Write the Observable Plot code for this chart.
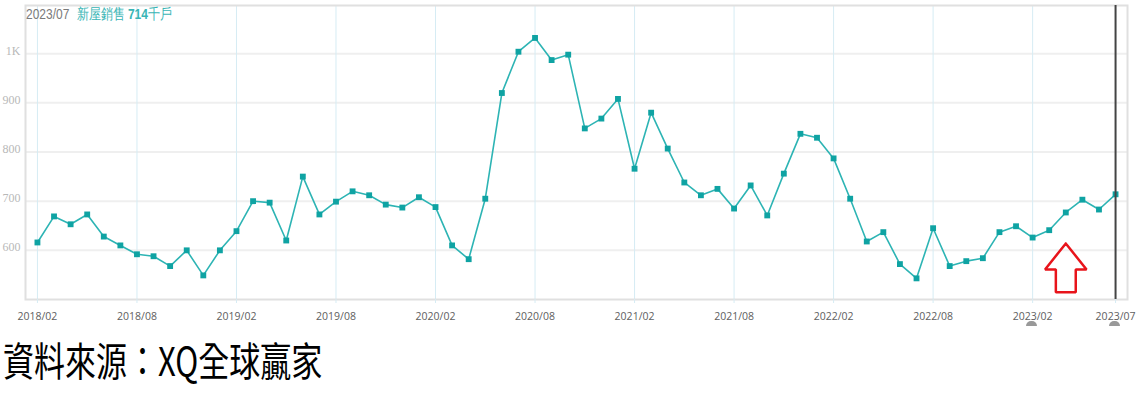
<!DOCTYPE html>
<html><head><meta charset="utf-8">
<script src="https://cdn.jsdelivr.net/npm/d3@7"></script>
<script src="https://cdn.jsdelivr.net/npm/@observablehq/plot@0.6"></script>
<style>
body{margin:0;background:#fff;width:1136px;height:397px;overflow:hidden;position:relative;font-family:"Liberation Sans",sans-serif}
#chart{position:absolute;left:0;top:0}
#hdr{position:absolute;left:26px;top:5px;font-size:15px;white-space:nowrap;transform:scaleX(0.8);transform-origin:left top;font-family:"Liberation Sans",sans-serif}
#hdr .d{color:#7a7a7a;margin-right:9px}
#hdr .s{color:#38b5b5}
#cap{position:absolute;left:3px;top:335px;font-family:"Noto Sans CJK TC",sans-serif;font-size:40px;line-height:48px;transform:scaleX(0.775);transform-origin:left top;color:#000;white-space:nowrap}
.knob{position:absolute;top:321px;width:11px;height:5px;background:#999;border-radius:6px 6px 0 0}
</style></head><body>
<div id="chart"></div>
<div id="hdr"><span class="d"></span><span class="s"></span></div>
<div id="cap"></div>
<script>
// ---- data ----
const startYear = 2018, startMonth = 2;
const sales = [
  616, 669, 653, 673, 628, 610, 592, 588, 568, 600, 549, 600,
  639, 700, 697, 620, 750, 673, 699, 720, 712, 693, 687, 708,
  688, 610, 582, 705, 920, 1004, 1032, 987, 998, 848, 868, 908,
  766, 880, 807, 738, 712, 725, 685, 732, 671, 756, 837, 829,
  787, 705, 618, 637, 572, 543, 645, 568, 578, 584, 637, 649,
  626, 641, 677, 703, 683, 714
];
const yTicks = [600, 700, 800, 900, 1000];
const yTickLabels = ["600", "700", "800", "900", "1K"];
const xTickLabels = ["2018/02","2018/08","2019/02","2019/08","2020/02","2020/08",
                     "2021/02","2021/08","2022/02","2022/08","2023/02","2023/07"];
const seriesName = "新屋銷售";
const unit = "千戶";
const caption = "資料來源：XQ全球贏家";
const arrowMonth = "2023/04";
// arrow outline: [month offset, value]
const arrowShape = [[0,614],[1.25,561],[0.6,561],[0.6,515],[-0.6,515],[-0.6,561],[-1.25,561],[0,614]];

// ---- derived ----
const months = sales.map((_, i) => {
  const m = startMonth - 1 + i;
  const y = startYear + Math.floor(m / 12);
  const mm = (m % 12) + 1;
  return `${y}/${String(mm).padStart(2, "0")}`;
});
const data = sales.map((v, i) => ({i, month: months[i], v}));
const xTickIdx = xTickLabels.map(l => months.indexOf(l));
const last = data[data.length - 1];
const aIdx = months.indexOf(arrowMonth);
const arrow = arrowShape.map(([dx, v]) => ({x: aIdx + dx, v}));

document.querySelector("#hdr .d").textContent = last.month;
document.querySelector("#hdr .s").innerHTML = `${seriesName} <b>${last.v}</b>${unit}`;
document.getElementById("cap").textContent = caption;

const chart = Plot.plot({
  width: 1136, height: 332,
  marginLeft: 25, marginRight: 9, marginTop: 5, marginBottom: 33,
  x: {domain: [-0.72, sales.length - 1 + 0.72], axis: null},
  y: {domain: [500, 1098], axis: null},
  style: {background: "transparent"},
  marks: [
    Plot.gridY(yTicks, {stroke: "#efefef", strokeOpacity: 1, strokeWidth: 2}),
    Plot.gridX(xTickIdx, {stroke: "#d6ecf4", strokeOpacity: 1, strokeWidth: 1}),
    Plot.frame({stroke: "#e0e0e0", strokeWidth: 2}),
    Plot.axisY(yTicks, {tickSize: 0, tickPadding: 5, dy: -3, label: null,
      tickFormat: d => yTickLabels[yTicks.indexOf(d)],
      fill: "#b8b8b8", fontFamily: "Liberation Serif", fontSize: 12}),
    Plot.axisX(xTickIdx, {tickSize: 4, tickPadding: 9, stroke: "#d6ecf4", label: null,
      tickFormat: i => months[i],
      fill: "#606060", fontFamily: "Open Sans", fontSize: 10.5}),
    Plot.line(data, {x: "i", y: "v", stroke: "#2db4b4", strokeWidth: 1.6}),
    Plot.dot(data, {x: "i", y: "v", symbol: "square", r: 3.3, fill: "#0fa3a3", stroke: "none"}),
    Plot.ruleX([last.i], {stroke: "#444", strokeWidth: 2}),
    Plot.line(arrow, {x: "x", y: "v", stroke: "#e8141b", strokeWidth: 2.5, strokeLinejoin: "miter"})
  ]
});
document.getElementById("chart").appendChild(chart);

// slider knobs under the axis at the range ends
[months.indexOf("2023/02"), last.i].forEach(i => {
  const k = document.createElement("div");
  k.className = "knob";
  k.style.left = (25 + (i + 0.72) * (1102 / (sales.length - 1 + 1.44)) - 6) + "px";
  document.body.appendChild(k);
});
</script>
</body></html>
